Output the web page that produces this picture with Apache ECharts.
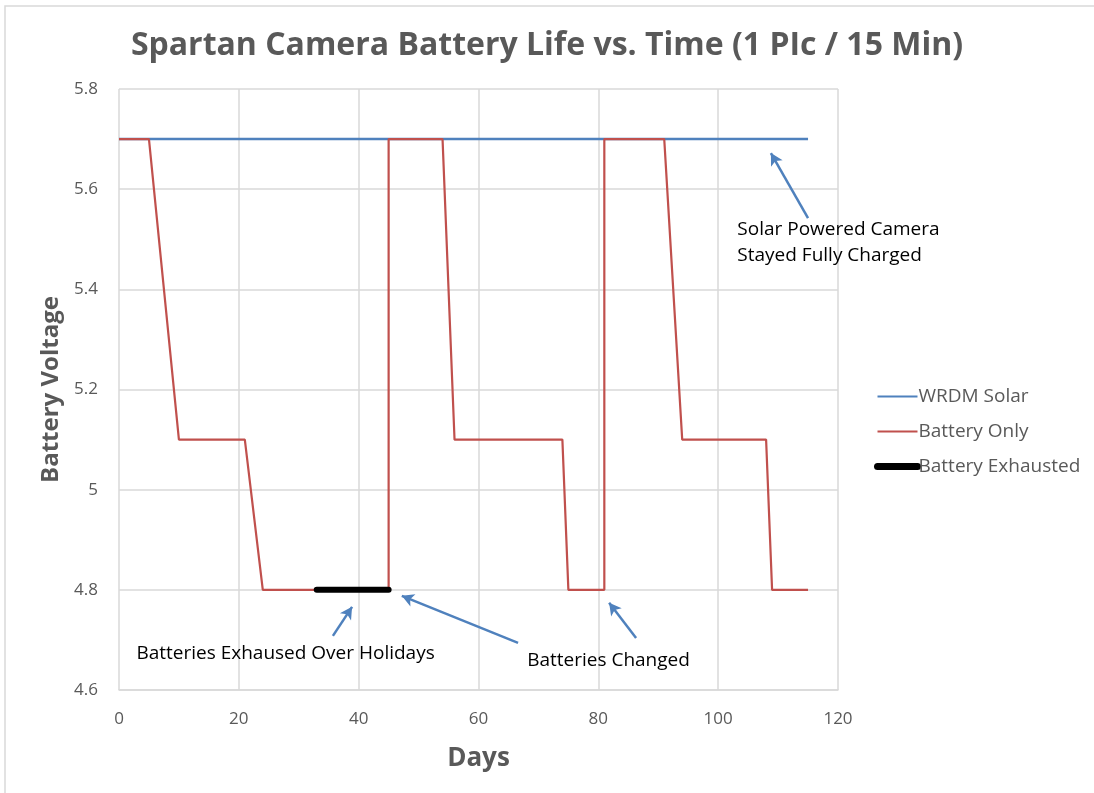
<!DOCTYPE html>
<html>
<head>
<meta charset="utf-8">
<script src="https://cdn.jsdelivr.net/npm/echarts@6/dist/echarts.min.js"></script>
<style>
  html, body { margin: 0; padding: 0; background: #fff; }
  #main { width: 1094px; height: 793px; }
</style>
</head>
<body>
<div id="main"></div>
<script>
// data
var solarData = [[0, 5.7], [115, 5.7]];
var batteryData = [
  [0, 5.7], [5, 5.7], [10, 5.1], [21, 5.1], [24, 4.8], [45, 4.8],
  [45, 5.7], [54, 5.7], [56, 5.1], [74, 5.1], [75, 4.8], [81, 4.8],
  [81, 5.7], [91, 5.7], [94, 5.1], [108, 5.1], [109, 4.8], [115, 4.8]
];
var exhaustedData = [[33, 4.8], [45, 4.8]];

// annotation arrows: [tail, head] in data coords
var arrows = [
  [[35.7, 4.708], [38.9, 4.766]],
  [[66.6, 4.694], [47.2, 4.788]],
  [[86.3, 4.704], [81.8, 4.774]],
  [[115, 5.542], [108.8, 5.672]]
];
// annotation texts: [x, y, text, align]
var notes = [
  [27.8, 4.672, 'Batteries Exhaused Over Holidays', 'center'],
  [81.7, 4.658, 'Batteries Changed', 'center'],
  [103.2, 5.4925, 'Solar Powered Camera\nStayed Fully Charged', 'left']
];

var textColor = '#595959';
var font = '"Open Sans", "Noto Sans", sans-serif';

var arrowLines = [];
for (var i = 0; i < arrows.length; i++) {
  arrowLines.push([
    { coord: arrows[i][0], symbol: 'none' },
    { coord: arrows[i][1], symbol: 'arrow' }
  ]);
}
var notePoints = [];
for (var j = 0; j < notes.length; j++) {
  notePoints.push({
    coord: [notes[j][0], notes[j][1]],
    label: { formatter: notes[j][2], align: notes[j][3] }
  });
}

var myChart = echarts.init(document.getElementById('main'));
var option = {
  animation: false,
  backgroundColor: '#fff',
  title: {
    text: 'Spartan Camera Battery Life vs. Time (1 PIc / 15 Min)',
    left: 'center',
    top: 25,
    textStyle: { color: textColor, fontSize: 32, fontWeight: 'bold', fontFamily: font }
  },
  graphic: [{
    type: 'rect',
    shape: { x: 5, y: 6, width: 1200, height: 900 },
    style: { fill: 'none', stroke: '#d9d9d9', lineWidth: 1.5 },
    silent: true
  }],
  grid: { left: 119, top: 89, right: 256, bottom: 103 },
  legend: {
    orient: 'vertical',
    left: 869,
    top: 382,
    itemWidth: 40,
    itemHeight: 14,
    itemGap: 16,
    itemStyle: { color: 'rgba(0,0,0,0)', borderWidth: 0, opacity: 0 },
    textStyle: { color: textColor, fontSize: 19, fontFamily: font, padding: [0, 0, 0, -4] },
    data: [
      { name: 'WRDM Solar', lineStyle: { width: 2 } },
      { name: 'Battery Only', lineStyle: { width: 2 } },
      { name: 'Battery Exhausted', lineStyle: { width: 7, cap: 'round' } }
    ]
  },
  xAxis: {
    type: 'value',
    min: 0,
    max: 120,
    interval: 20,
    name: 'Days',
    nameLocation: 'middle',
    nameGap: 56,
    nameTextStyle: { color: textColor, fontSize: 26, fontWeight: 'bold', fontFamily: font },
    axisLine: { show: true, lineStyle: { color: '#d9d9d9', width: 1.5 } },
    axisTick: { show: false },
    axisLabel: { color: textColor, fontSize: 17, fontFamily: font, margin: 21 },
    splitLine: { show: true, lineStyle: { color: '#d9d9d9', width: 1.5 } }
  },
  yAxis: {
    type: 'value',
    min: 4.6,
    max: 5.8,
    interval: 0.2,
    name: 'Battery Voltage',
    nameLocation: 'middle',
    nameGap: 55,
    nameTextStyle: { color: textColor, fontSize: 24, fontWeight: 'bold', fontFamily: font },
    axisLine: { show: false },
    axisTick: { show: false },
    axisLabel: {
      color: textColor, fontSize: 17, fontFamily: font, margin: 21,
      formatter: function(v) { return +v.toFixed(1) + ''; }
    },
    splitLine: { show: true, lineStyle: { color: '#d9d9d9', width: 1.5 } }
  },
  series: [
    {
      name: 'WRDM Solar',
      type: 'line',
      data: solarData,
      symbol: 'none',
      lineStyle: { color: '#4F81BD', width: 2.5 },
      itemStyle: { color: '#4F81BD' },
      z: 2,
      markLine: {
        silent: true,
        symbolSize: [10, 12],
        label: { show: false },
        lineStyle: { color: '#4F81BD', width: 2.5, type: 'solid' },
        data: arrowLines
      },
      markPoint: {
        silent: true,
        symbol: 'circle',
        symbolSize: 0,
        label: {
          show: true,
          position: 'inside',
          color: '#000',
          fontSize: 19,
          lineHeight: 26,
          fontFamily: font
        },
        data: notePoints
      }
    },
    {
      name: 'Battery Only',
      type: 'line',
      data: batteryData,
      symbol: 'none',
      lineStyle: { color: '#C0504D', width: 2.2 },
      itemStyle: { color: '#C0504D' },
      z: 3
    },
    {
      name: 'Battery Exhausted',
      type: 'line',
      data: exhaustedData,
      symbol: 'none',
      lineStyle: { color: '#000', width: 6, cap: 'round' },
      itemStyle: { color: '#000' },
      z: 4
    }
  ]
};
myChart.setOption(option);
</script>
</body>
</html>
